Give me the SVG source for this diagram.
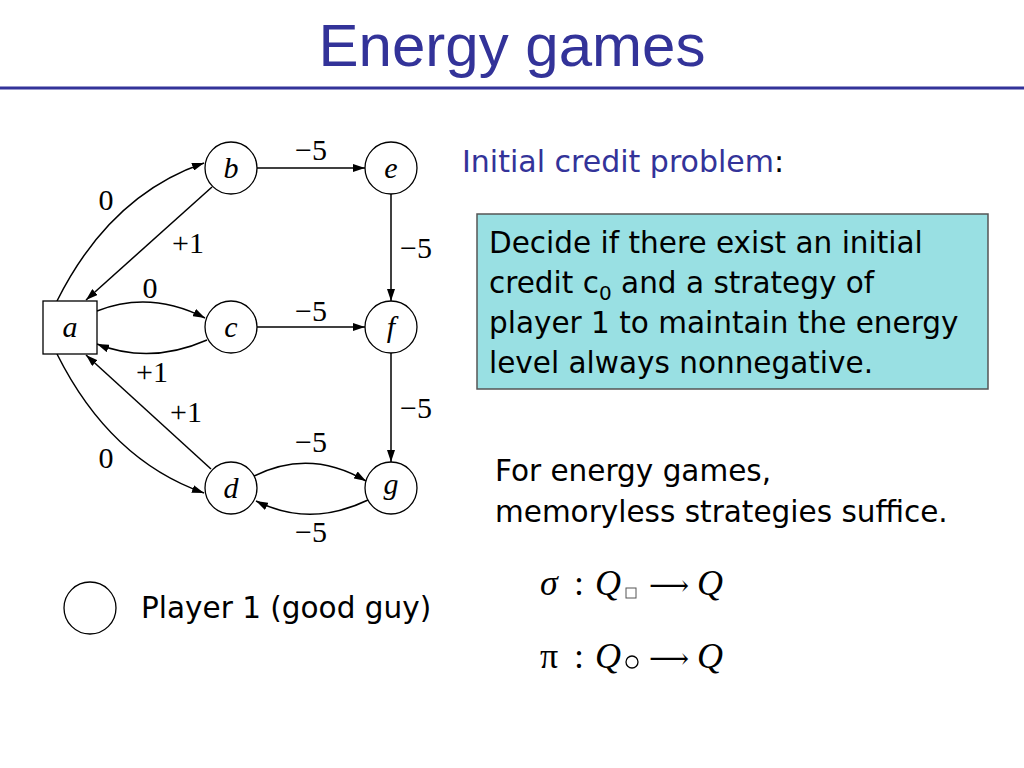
<svg xmlns="http://www.w3.org/2000/svg" width="1024" height="768" viewBox="0 0 1024 768">
<defs>
<marker id="arr" markerUnits="userSpaceOnUse" markerWidth="12" markerHeight="8" refX="12" refY="4" orient="auto">
<path d="M0,0 L12,4 L0,8 z" fill="#000"/>
</marker>
<style>
.node{fill:#fff;stroke:#000;stroke-width:1.3}
.nl{font-family:"Liberation Serif",serif;font-style:italic;font-size:30px;text-anchor:middle}
.el{font-family:"Liberation Serif",serif;font-size:30px;text-anchor:middle}
.edge{fill:none;stroke:#000;stroke-width:1.5;marker-end:url(#arr)}
.txt{font-family:"DejaVu Sans",sans-serif;font-size:29.5px;fill:#000}
.math{font-family:"Liberation Serif",serif;font-size:36px}
.arrow{font-family:"DejaVu Serif",serif;font-size:28px}
</style>
</defs>
<rect width="1024" height="768" fill="#fff"/>
<text x="512" y="66" font-family="Liberation Sans, sans-serif" font-size="60" fill="#333399" text-anchor="middle">Energy games</text>
<line x1="0" y1="88" x2="1024" y2="88" stroke="#333399" stroke-width="3"/>

<g id="connectors">
<path class="edge" d="M57,301 Q110,195 204,163"/>
<path class="edge" d="M212,187 L86,300"/>
<path class="edge" d="M97,311 Q150,290 205,318"/>
<path class="edge" d="M207,340 Q150,365 97,344"/>
<path class="edge" d="M211,469 L86,355"/>
<path class="edge" d="M57,354 Q110,460 204,493"/>
<path class="edge" d="M257,168 L365,168"/>
<path class="edge" d="M257,327 L365,327"/>
<path class="edge" d="M391,194 L391,301"/>
<path class="edge" d="M391,353 L391,462"/>
<path class="edge" d="M254,476 Q310,448 366,481"/>
<path class="edge" d="M368,500 Q310,528 256,501"/>
<text class="el" x="106" y="210">0</text>
<text class="el" x="188" y="253">+1</text>
<text class="el" x="150" y="298">0</text>
<text class="el" x="152" y="382">+1</text>
<text class="el" x="186" y="422">+1</text>
<text class="el" x="106" y="468">0</text>
<text class="el" x="311" y="160">−5</text>
<text class="el" x="311" y="321">−5</text>
<text class="el" x="416" y="258">−5</text>
<text class="el" x="416" y="418">−5</text>
<text class="el" x="311" y="452">−5</text>
<text class="el" x="311" y="542">−5</text>
</g>

<g id="node-a"><rect class="node" x="43" y="301" width="54" height="53"/><text class="nl" x="70" y="337">a</text></g>
<g id="node-b"><circle class="node" cx="231" cy="168" r="26"/><text class="nl" x="231" y="178">b</text></g>
<g id="node-c"><circle class="node" cx="231" cy="327" r="26"/><text class="nl" x="231" y="337">c</text></g>
<g id="node-d"><circle class="node" cx="231" cy="488" r="26"/><text class="nl" x="231" y="498">d</text></g>
<g id="node-e"><circle class="node" cx="391" cy="168" r="26"/><text class="nl" x="391" y="178">e</text></g>
<g id="node-f"><circle class="node" cx="391" cy="327" r="26"/><text class="nl" x="391" y="337">f</text></g>
<g id="node-g"><circle class="node" cx="391" cy="488" r="26"/><text class="nl" x="391" y="494">g</text></g>

<g id="legend">
<circle class="node" cx="90" cy="608" r="26"/>
<text class="txt" x="141" y="618">Player 1 (good guy)</text>
</g>

<text x="462" y="172" font-family="DejaVu Sans, sans-serif" font-size="30" fill="#333399">Initial credit problem<tspan fill="#000">:</tspan></text>

<g id="problem-box">
<rect x="477" y="214" width="511" height="175" fill="#99E0E3" stroke="#555" stroke-width="1.5"/>
<text class="txt" x="489" y="253">Decide if there exist an initial</text>
<text class="txt" x="489" y="293">credit c<tspan font-size="20" dy="7">0</tspan><tspan dy="-7"> and a strategy of</tspan></text>
<text class="txt" x="489" y="333">player 1 to maintain the energy</text>
<text class="txt" x="489" y="373">level always nonnegative.</text>
</g>

<text class="txt" x="495" y="481">For energy games,</text>
<text class="txt" x="495" y="522">memoryless strategies suffice.</text>

<g id="strategies">
<text class="math" x="540" y="595" font-style="italic">σ</text>
<text class="math" x="574" y="595">:</text>
<text class="math" x="595" y="595" font-style="italic">Q</text>
<rect x="626" y="588" width="10" height="10" fill="none" stroke="#555" stroke-width="1"/>
<text class="arrow" x="649" y="595">⟶</text>
<text class="math" x="697" y="595" font-style="italic">Q</text>
<text class="math" x="540" y="668">π</text>
<text class="math" x="574" y="668">:</text>
<text class="math" x="595" y="668" font-style="italic">Q</text>
<circle cx="632" cy="662" r="6" fill="none" stroke="#000" stroke-width="1.3"/>
<text class="arrow" x="649" y="668">⟶</text>
<text class="math" x="697" y="668" font-style="italic">Q</text>
</g>
</svg>
